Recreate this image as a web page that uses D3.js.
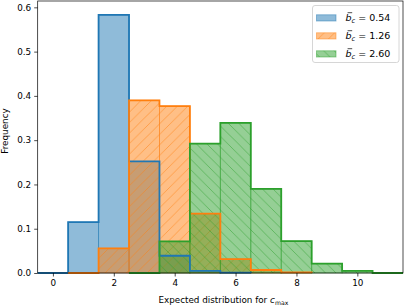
<!DOCTYPE html>
<html><head><meta charset="utf-8">
<script src="https://cdn.jsdelivr.net/npm/d3@7"></script>
<style>body{margin:0;background:#fff}svg{display:block}text{font-family:"DejaVu Sans",sans-serif;fill:#000}</style>
</head><body><svg id="c" width="405" height="305"></svg>
<script>
// ---- data ----
const seriesLabels = ["0.54", "1.26", "2.60"];
const seriesColors = ["#1f77b4", "#ff7f0e", "#2ca02c"];
const seriesHatch = [null, "/", "\\"];
const binStarts = [-0.5, 0.5, 2.5];        // left edge of first bin (bin width 1)
const blueValues   = [0, 0.115, 0.583, 0.252, 0.039, 0.005, 0.001];
const orangeValues = [0, 0.0556, 0.390, 0.377, 0.134, 0.0315, 0.0068, 0.0015];
const greenValues  = [0, 0.0713, 0.292, 0.339, 0.190, 0.072, 0.021, 0.005, 0];
const xTicks = [0, 2, 4, 6, 8, 10];
const yTicks = [0.0, 0.1, 0.2, 0.3, 0.4, 0.5, 0.6];

const allValues = [blueValues, orangeValues, greenValues];
const svg = d3.select("#c");
const L = 37.7, R = 403, T = 1, B = 273;
const x = d3.scaleLinear().domain([-0.5, 11.5]).range([L, R]);
const y = d3.scaleLinear().domain([0, 0.6143]).range([B, T]);

// hatch patterns
const defs = svg.append("defs");
const hs = 10.5;
seriesHatch.forEach((h, i) => {
  if (!h) return;
  const p = defs.append("pattern").attr("id", "h" + i).attr("patternUnits", "userSpaceOnUse")
    .attr("width", hs).attr("height", hs);
  const d = h === "/"
    ? `M0,${hs} L${hs},0 M${-hs/2},${hs/2} L${hs/2},${-hs/2} M${hs/2},${hs*1.5} L${hs*1.5},${hs/2}`
    : `M0,0 L${hs},${hs} M${-hs/2},${hs/2} L${hs/2},${hs*1.5} M${hs/2},${-hs/2} L${hs*1.5},${hs/2}`;
  p.append("path").attr("d", d).attr("stroke", seriesColors[i]).attr("stroke-opacity", 0.55).attr("stroke-width", 0.9);
});

const plot = svg.append("g");
// filled bars
allValues.forEach((vals, i) => {
  const bins = vals.map((v, k) => ({x0: binStarts[i] + k, x1: binStarts[i] + k + 1, v}));
  const g = plot.append("g");
  bins.filter(b => b.v > 0).forEach(b => {
    g.append("rect").attr("x", x(b.x0)).attr("y", y(b.v)).attr("width", x(b.x1) - x(b.x0)).attr("height", y(0) - y(b.v))
      .attr("fill", seriesColors[i]).attr("fill-opacity", 0.5)
      .attr("stroke", seriesColors[i]).attr("stroke-opacity", 0.5).attr("stroke-width", 0.9);
    if (seriesHatch[i]) {
      g.append("rect").attr("x", x(b.x0)).attr("y", y(b.v)).attr("width", x(b.x1) - x(b.x0)).attr("height", y(0) - y(b.v))
        .attr("fill", `url(#h${i})`);
    }
  });
});
// step outlines
allValues.forEach((vals, i) => {
  const pts = [[binStarts[i], 0]];
  vals.forEach((v, k) => { pts.push([binStarts[i] + k, v]); pts.push([binStarts[i] + k + 1, v]); });
  pts.push([binStarts[i] + vals.length, 0]);
  plot.append("path").attr("d", d3.line().x(d => x(d[0])).y(d => y(d[1]))(pts))
    .attr("fill", "none").attr("stroke", seriesColors[i]).attr("stroke-width", 1.8).attr("stroke-linejoin", "miter");
});

// axes
const fs = 8.8;
const xa = svg.append("g").attr("transform", `translate(0,${B})`)
  .call(d3.axisBottom(x).tickValues(xTicks).tickSize(3.5).tickPadding(3).tickFormat(d3.format("d")));
const ya = svg.append("g").attr("transform", `translate(${L},0)`)
  .call(d3.axisLeft(y).tickValues(yTicks).tickSize(3.5).tickPadding(3).tickFormat(d3.format(".1f")));
[xa, ya].forEach(a => {
  a.select(".domain").remove();
  a.selectAll("line").attr("stroke", "#000").attr("stroke-width", 0.7);
  a.selectAll("text").attr("font-size", fs).attr("font-family", "DejaVu Sans").attr("fill", "#000");
});
svg.append("rect").attr("x", L).attr("y", T).attr("width", R - L).attr("height", B - T)
  .attr("fill", "none").attr("stroke", "#000").attr("stroke-width", 0.7);

// labels
const xl = svg.append("text").attr("x", (L + R) / 2 + 3).attr("y", 302.5).attr("text-anchor", "middle").attr("font-size", fs);
xl.append("tspan").text("Expected distribution for ");
xl.append("tspan").attr("font-style", "italic").text("c");
xl.append("tspan").attr("font-size", fs * 0.7).attr("dy", 2).text("max");
svg.append("text").attr("transform", `translate(8,131) rotate(-90)`).attr("text-anchor", "middle")
  .attr("font-size", fs).text("Frequency");

// legend
const lfs = 9.5;
const lg = svg.append("g");
lg.append("rect").attr("x", 312.5).attr("y", 5.5).attr("width", 86.5).attr("height", 57).attr("rx", 2.5)
  .attr("fill", "#fff").attr("fill-opacity", 0.8).attr("stroke", "#cccccc").attr("stroke-width", 0.8);
seriesLabels.forEach((lab, i) => {
  const cy = 17.8 + i * 18;
  lg.append("rect").attr("x", 316.5).attr("y", cy - 3).attr("width", 19.5).attr("height", 6.2)
    .attr("fill", seriesColors[i]).attr("fill-opacity", 0.5).attr("stroke", seriesColors[i]).attr("stroke-opacity", 0.5).attr("stroke-width", 0.9);
  if (seriesHatch[i]) lg.append("rect").attr("x", 316.5).attr("y", cy - 3).attr("width", 19.5).attr("height", 6.2).attr("fill", `url(#h${i})`);
  const base = cy + 3.5;
  const t = lg.append("text").attr("x", 345.5).attr("y", base).attr("font-size", lfs);
  t.append("tspan").attr("font-style", "italic").text("b");
  t.append("tspan").attr("font-style", "italic").attr("font-size", lfs * 0.7).attr("dy", 1.8).text("c");
  t.append("tspan").attr("dy", -1.8).text(" = " + lab);
  // bar accent over b
  lg.append("line").attr("x1", 347.6).attr("x2", 352.2).attr("y1", base - 8.6).attr("y2", base - 8.6)
    .attr("stroke", "#000").attr("stroke-width", 0.7);
});
</script></body></html>
